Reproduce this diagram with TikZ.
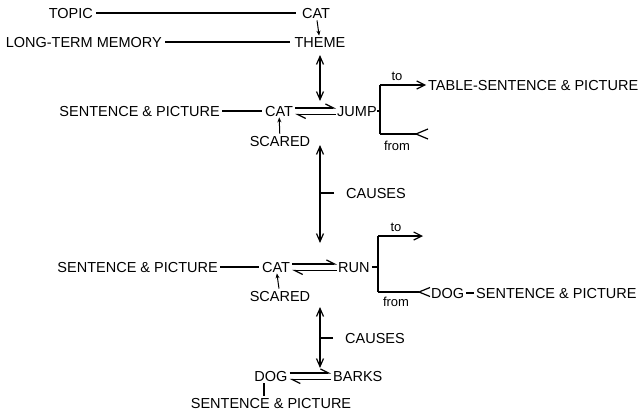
\documentclass[tikz,border=0pt]{standalone}
\usepackage{fontspec}
\setmainfont{Liberation Sans}
\usetikzlibrary{arrows.meta}
\begin{document}
\begin{tikzpicture}[x=1pt,y=-1pt,
  lbl/.style={inner sep=0pt, text height=10.4pt, text depth=0pt, font=\fontsize{14.5}{16}\selectfont},
  sm/.style={inner sep=0pt, font=\fontsize{13}{15}\selectfont},
  ln/.style={line width=1.2pt},
  dbl/.style={ln, {Straight Barb[length=8pt,width=7pt]}-{Straight Barb[length=8pt,width=7pt]}},
  toarr/.style={ln, -{Straight Barb[length=8pt,width=8pt]}},
  harp/.style={ln, -{Straight Barb[harpoon,length=8pt,width=8pt]}},
  small/.style={line width=1pt, -{Stealth[length=5pt,width=4pt]}},
]
\fill[white] (0,0) rectangle (643,415);
\useasboundingbox (0,0) rectangle (643,415);

% top
\node[lbl, anchor=east] (topic) at (93,13) {TOPIC};
\node[lbl] (cat0) at (316,13) {CAT};
\node[lbl, anchor=east] (ltm) at (162,42) {LONG-TERM MEMORY};
\node[lbl] (theme) at (320,42) {THEME};
\draw[ln, shorten <=3pt, shorten >=6pt] (topic) -- (cat0);
\draw[ln, shorten <=3pt, shorten >=4pt] (ltm) -- (theme);
\draw[small, shorten <=2pt, shorten >=1pt] (cat0) -- (theme);

% row 2
\node[lbl, anchor=east] (sp1) at (220,111) {SENTENCE \& PICTURE};
\node[lbl] (cat1) at (279,111) {CAT};
\node[lbl, anchor=west] (jump) at (337,111) {JUMP};
\draw[ln, shorten <=2pt, shorten >=3pt] (sp1) -- (cat1);
\draw[harp, shorten <=2pt, shorten >=1pt] ([yshift=3pt]cat1.east) -- ([yshift=3pt]jump.west);
\draw[harp, shorten <=1pt, shorten >=2pt] ([yshift=-3.5pt]jump.west) -- ([yshift=-3.5pt]cat1.east);
\coordinate (b1) at (380,111);
\coordinate (b1t) at (380,85);
\coordinate (b1b) at (380,134);
\draw[ln] (jump.east) -- (b1);
\draw[ln] (b1t) -- (b1b);
\node[lbl, anchor=west] (table) at (428,85) {TABLE-SENTENCE \& PICTURE};
\draw[toarr, shorten >=2pt] (b1t) -- (table.west);
\node[sm] (to1) at (397,76) {to};
\coordinate (f1) at (416,134);
\draw[ln] (b1b) -- (f1);
\draw[ln] ([shift={(12,-5)}]f1) -- (f1) -- ([shift={(12,5)}]f1);
\node[sm] (from1) at (397,146) {from};
\node[lbl] (sc1) at (280,141) {SCARED};
\draw[small, shorten <=2pt, shorten >=1pt] (sc1) -- (cat1);

% vertical arrows
\coordinate (v1a) at (320,55);
\coordinate (v1b) at (320,101);
\draw[dbl] (v1a) -- (v1b);
\coordinate (v2a) at (320,145);
\coordinate (v2b) at (320,243);
\draw[dbl] (v2a) -- (v2b);
\node[lbl, anchor=west] (causes1) at (346,193) {CAUSES};
\draw[ln] ([xshift=-12pt]causes1.west) -- (v2a |- causes1.west);

% row 3
\node[lbl, anchor=east] (sp2) at (218,267) {SENTENCE \& PICTURE};
\node[lbl] (cat2) at (276,267) {CAT};
\node[lbl, anchor=west] (run) at (338,267) {RUN};
\draw[ln, shorten <=2pt, shorten >=3pt] (sp2) -- (cat2);
\draw[harp, shorten <=2pt, shorten >=1pt] ([yshift=3pt]cat2.east) -- ([yshift=3pt]run.west);
\draw[harp, shorten <=1pt, shorten >=2pt] ([yshift=-3.5pt]run.west) -- ([yshift=-3.5pt]cat2.east);
\coordinate (b2) at (378,267);
\coordinate (b2t) at (378,236);
\coordinate (b2b) at (378,292);
\draw[ln, shorten <=2pt] (run.east) -- (b2);
\draw[ln] (b2t) -- (b2b);
\coordinate (t2) at (423,236);
\draw[toarr] (b2t) -- (t2);
\node[sm] (to2) at (396,227) {to};
\node[lbl, anchor=west] (dog1) at (431,293) {DOG};
\node[lbl, anchor=west] (sp3) at (476,293) {SENTENCE \& PICTURE};
\draw[ln, shorten <=2pt, shorten >=2pt] (dog1) -- (sp3);
\coordinate (f2) at (419,292);
\draw[ln] (b2b) -- (f2);
\draw[ln] ([shift={(11,-4.5)}]f2) -- (f2) -- ([shift={(11,4.5)}]f2);
\node[sm] (from2) at (396,302) {from};
\node[lbl] (sc2) at (280,296) {SCARED};
\draw[small, shorten <=2pt, shorten >=1pt] (sc2) -- (cat2);

\coordinate (v3a) at (320,307);
\coordinate (v3b) at (320,368);
\draw[dbl] (v3a) -- (v3b);
\node[lbl, anchor=west] (causes2) at (345,338) {CAUSES};
\draw[ln] ([xshift=-12pt]causes2.west) -- (v3a |- causes2.west);

% row 4
\node[lbl] (dog2) at (271,376) {DOG};
\node[lbl, anchor=west] (barks) at (333,376) {BARKS};
\draw[harp, shorten <=2pt, shorten >=2pt] ([yshift=3pt]dog2.east) -- ([yshift=3pt]barks.west);
\draw[harp, shorten <=2pt, shorten >=2pt] ([yshift=-3.5pt]barks.west) -- ([yshift=-3.5pt]dog2.east);
\node[lbl] (sp4) at (271,403) {SENTENCE \& PICTURE};
\draw[ln, shorten <=2pt, shorten >=2pt] ([xshift=-7pt]dog2.south) -- ([xshift=-7pt]dog2.south |- sp4.north);
\end{tikzpicture}
\end{document}
